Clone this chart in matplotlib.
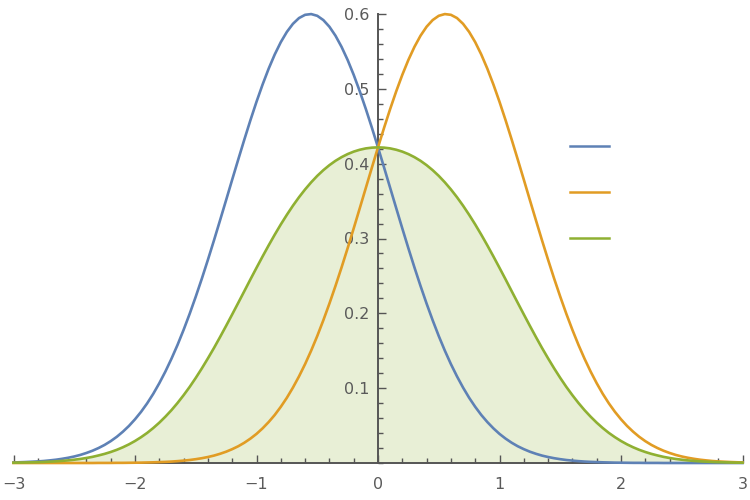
import numpy as np
import matplotlib
matplotlib.use("Agg")
import matplotlib.pyplot as plt
from matplotlib.lines import Line2D
from matplotlib.ticker import MultipleLocator, FixedLocator, FixedFormatter

# sample positions (-3 .. 3, step 0.05)
x = np.linspace(-3, 3, 121)

blue = [0.0007, 0.0010, 0.0013, 0.0017, 0.0021, 0.0027, 0.0035, 0.0044, 0.0056, 0.0070,
        0.0087, 0.0108, 0.0134, 0.0164, 0.0200, 0.0242, 0.0292, 0.0350, 0.0418, 0.0495,
        0.0584, 0.0684, 0.0797, 0.0924, 0.1066, 0.1222, 0.1393, 0.1578, 0.1779, 0.1994,
        0.2223, 0.2463, 0.2715, 0.2975, 0.3243, 0.3514, 0.3787, 0.4057, 0.4323, 0.4581,
        0.4827, 0.5057, 0.5269, 0.5459, 0.5624, 0.5761, 0.5869, 0.5946, 0.5989, 0.5999,
        0.5976, 0.5919, 0.5830, 0.5710, 0.5561, 0.5386, 0.5187, 0.4967, 0.4730, 0.4479,
        0.4218,
        0.3949, 0.3677, 0.3405, 0.3135, 0.2870, 0.2613, 0.2366, 0.2130, 0.1907, 0.1697,
        0.1502, 0.1322, 0.1158, 0.1008, 0.0872, 0.0751, 0.0642, 0.0547, 0.0463, 0.0389,
        0.0326, 0.0271, 0.0224, 0.0185, 0.0151, 0.0123, 0.0099, 0.0080, 0.0064, 0.0051,
        0.0040, 0.0032, 0.0025, 0.0019, 0.0015, 0.0012, 0.0009, 0.0007, 0.0005, 0.0004,
        0.0003, 0.0002, 0.0002, 0.0001, 0.0001, 0.0001, 0.0000, 0.0000, 0.0000, 0.0000,
        0.0000, 0.0000, 0.0000, 0.0000, 0.0000, 0.0000, 0.0000, 0.0000, 0.0000, 0.0000]

orange = [0.0000, 0.0000, 0.0000, 0.0000, 0.0000, 0.0000, 0.0000, 0.0000, 0.0000, 0.0000,
          0.0000, 0.0000, 0.0000, 0.0000, 0.0001, 0.0001, 0.0001, 0.0002, 0.0002, 0.0003,
          0.0004, 0.0005, 0.0007, 0.0009, 0.0012, 0.0015, 0.0019, 0.0025, 0.0032, 0.0040,
          0.0051, 0.0064, 0.0080, 0.0099, 0.0123, 0.0151, 0.0185, 0.0224, 0.0271, 0.0326,
          0.0389, 0.0463, 0.0547, 0.0642, 0.0751, 0.0872, 0.1008, 0.1158, 0.1322, 0.1502,
          0.1697, 0.1907, 0.2130, 0.2366, 0.2613, 0.2870, 0.3135, 0.3405, 0.3677, 0.3949,
          0.4218,
          0.4479, 0.4730, 0.4967, 0.5187, 0.5386, 0.5561, 0.5710, 0.5830, 0.5919, 0.5976,
          0.5999, 0.5989, 0.5946, 0.5869, 0.5761, 0.5624, 0.5459, 0.5269, 0.5057, 0.4827,
          0.4581, 0.4323, 0.4057, 0.3787, 0.3514, 0.3243, 0.2975, 0.2715, 0.2463, 0.2223,
          0.1994, 0.1779, 0.1578, 0.1393, 0.1222, 0.1066, 0.0924, 0.0797, 0.0684, 0.0584,
          0.0495, 0.0418, 0.0350, 0.0292, 0.0242, 0.0200, 0.0164, 0.0134, 0.0108, 0.0087,
          0.0070, 0.0056, 0.0044, 0.0035, 0.0027, 0.0021, 0.0017, 0.0013, 0.0010, 0.0007]

green = [0.0004, 0.0005, 0.0007, 0.0009, 0.0011, 0.0014, 0.0018, 0.0022, 0.0028, 0.0035,
         0.0044, 0.0054, 0.0067, 0.0082, 0.0101, 0.0122, 0.0147, 0.0176, 0.0210, 0.0249,
         0.0294, 0.0345, 0.0402, 0.0467, 0.0539, 0.0619, 0.0706, 0.0802, 0.0906, 0.1017,
         0.1137, 0.1264, 0.1398, 0.1537, 0.1683, 0.1833, 0.1986, 0.2141, 0.2297, 0.2454,
         0.2608, 0.2760, 0.2908, 0.3051, 0.3188, 0.3317, 0.3439, 0.3552, 0.3656, 0.3751,
         0.3837, 0.3913, 0.3980, 0.4038, 0.4087, 0.4128, 0.4161, 0.4186, 0.4204, 0.4214,
         0.4218,
         0.4214, 0.4204, 0.4186, 0.4161, 0.4128, 0.4087, 0.4038, 0.3980, 0.3913, 0.3837,
         0.3751, 0.3656, 0.3552, 0.3439, 0.3317, 0.3188, 0.3051, 0.2908, 0.2760, 0.2608,
         0.2454, 0.2297, 0.2141, 0.1986, 0.1833, 0.1683, 0.1537, 0.1398, 0.1264, 0.1137,
         0.1017, 0.0906, 0.0802, 0.0706, 0.0619, 0.0539, 0.0467, 0.0402, 0.0345, 0.0294,
         0.0249, 0.0210, 0.0176, 0.0147, 0.0122, 0.0101, 0.0082, 0.0067, 0.0054, 0.0044,
         0.0035, 0.0028, 0.0022, 0.0018, 0.0014, 0.0011, 0.0009, 0.0007, 0.0005, 0.0004]

x_ticks = [-3, -2, -1, 0, 1, 2, 3]
x_tick_labels = ["\u22123", "\u22122", "\u22121", "0", "1", "2", "3"]
y_ticks = [0.1, 0.2, 0.3, 0.4, 0.5, 0.6]
y_tick_labels = ["0.1", "0.2", "0.3", "0.4", "0.5", "0.6"]

c_blue = "#5E81B5"
c_orange = "#E19C24"
c_green = "#8FB032"
axis_col = "#555555"
label_col = "#5a5a5a"

fig = plt.figure(figsize=(7.5, 5), dpi=100)
ax = fig.add_axes([13.5 / 750, 37 / 500, 729 / 750, 449 / 500])

ax.fill_between(x, 0, green, color=c_green, alpha=0.2, linewidth=0, zorder=1)
lw = 1.9
ax.plot(x, blue, color=c_blue, lw=lw, clip_on=False, zorder=3)
ax.plot(x, orange, color=c_orange, lw=lw, clip_on=False, zorder=3)
ax.plot(x, green, color=c_green, lw=lw, clip_on=False, zorder=3.1)

ax.set_xlim(-3, 3)
ax.set_ylim(0, 0.6)

for s in ["top", "right"]:
    ax.spines[s].set_visible(False)
ax.spines["left"].set_position(("data", 0))
ax.spines["bottom"].set_position(("data", 0))
for s in ["left", "bottom"]:
    ax.spines[s].set_color(axis_col)
    ax.spines[s].set_linewidth(1.4)
    ax.spines[s].set_zorder(2)

ax.xaxis.set_major_locator(FixedLocator(x_ticks))
ax.xaxis.set_major_formatter(FixedFormatter(x_tick_labels))
ax.xaxis.set_minor_locator(MultipleLocator(0.2))
ax.yaxis.set_major_locator(FixedLocator(y_ticks))
ax.yaxis.set_major_formatter(FixedFormatter(y_tick_labels))
ax.yaxis.set_minor_locator(MultipleLocator(0.02))

ax.tick_params(which="both", direction="in", color=axis_col, width=1.0)
ax.tick_params(which="major", length=6)
ax.tick_params(which="minor", length=3.5)
ax.tick_params(axis="x", which="major", pad=10, labelsize=11.5, labelcolor=label_col)
ax.tick_params(axis="y", which="major", pad=6, labelsize=11.5, labelcolor=label_col)

ax.set_facecolor("none")

# legend keys (no labels)
for col, yp in zip([c_blue, c_orange, c_green], [146, 192, 238]):
    fig.add_artist(Line2D([570 / 750, 609 / 750], [1 - yp / 500, 1 - yp / 500],
                          transform=fig.transFigure, color=col, lw=1.8))

fig.savefig("out.png", dpi=100)
